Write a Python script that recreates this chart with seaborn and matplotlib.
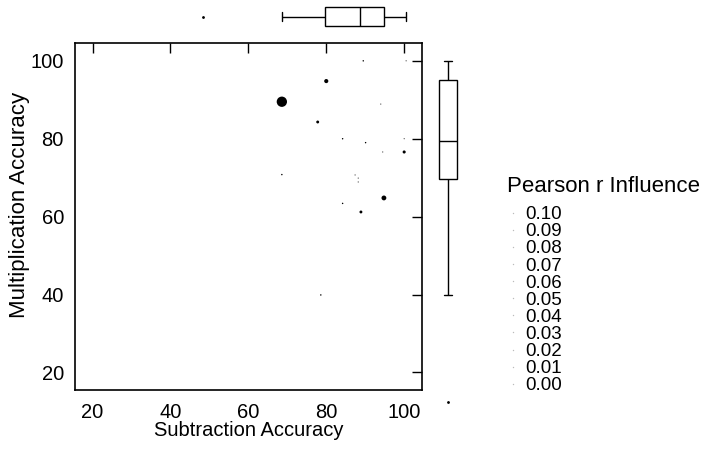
import matplotlib
matplotlib.use("Agg")
import matplotlib.pyplot as plt
from matplotlib.lines import Line2D
import seaborn as sns
import pandas as pd

# ---- data ----
subtraction = [68.6, 80.0, 89.5, 94.0, 77.8, 84.2, 90.1, 100.0, 94.5, 100.0,
               68.6, 87.4, 88.2, 88.2, 94.8, 84.2, 88.9, 78.6, 48.4,
               79.2, 95.0, 97.0, 100.0, 100.5]
multiplication = [89.5, 94.8, 100.0, 88.9, 84.3, 80.0, 79.0, 80.0, 76.6, 76.6,
                  70.8, 70.7, 69.9, 68.9, 64.8, 63.4, 61.2, 39.9, 12.5,
                  97.0, 96.0, 100.0, 98.0, 100.0]
influence = [0.100, 0.016, 0.002, 0.001, 0.008, 0.002, 0.002, 0.001, 0.001, 0.009,
             0.002, 0.001, 0.001, 0.001, 0.022, 0.002, 0.008, 0.002, 0.0,
             0.0, 0.0, 0.0, 0.0, 0.001]
legend_levels = [0.10, 0.09, 0.08, 0.07, 0.06, 0.05, 0.04, 0.03, 0.02, 0.01, 0.00]
ticks = [20, 40, 60, 80, 100]

df = pd.DataFrame({"Subtraction Accuracy": subtraction,
                   "Multiplication Accuracy": multiplication,
                   "Pearson r Influence": influence})

sns.set_theme(style="white")
plt.rcParams["font.family"] = ["Liberation Sans", "DejaVu Sans"]
plt.rcParams["text.color"] = "black"
plt.rcParams["axes.labelcolor"] = "black"
plt.rcParams["xtick.color"] = "black"
plt.rcParams["ytick.color"] = "black"

W, H = 710, 450
fig = plt.figure(figsize=(W / 100, H / 100), dpi=100)

def box(l, t, r, b):
    return [l / W, 1 - b / H, (r - l) / W, (b - t) / H]

ax = fig.add_axes(box(75, 43.3, 421.7, 390))
sns.scatterplot(data=df, x="Subtraction Accuracy", y="Multiplication Accuracy",
                size="Pearson r Influence", sizes=(0, 55), size_norm=(0, 0.1),
                color="black", edgecolor="none", linewidth=0, legend=False, ax=ax)
ax.set_xlim(15.5, 104.5)
ax.set_ylim(15.5, 104.5)
ax.set_xticks(ticks)
ax.set_yticks(ticks)
ax.tick_params(axis="both", which="both", direction="in", length=7.5, width=1,
               color="black", top=True, right=True, labelsize=14.5, labelcolor="black")
ax.tick_params(axis="x", pad=9)
ax.tick_params(axis="y", pad=8)
for s in ax.spines.values():
    s.set_color("black")
    s.set_linewidth(1.2)
ax.set_xlabel("Subtraction Accuracy", fontsize=14.5, color="black", labelpad=0)
ax.set_ylabel("Multiplication Accuracy", fontsize=16, color="black")
ax.yaxis.set_label_coords(-0.13, 0.534)

boxkw = dict(color="white", linecolor="black", linewidth=1, width=0.8,
             flierprops=dict(marker=".", markersize=2, markerfacecolor="black",
                             markeredgecolor="black"))

# top marginal box plot
axt = fig.add_axes(box(75, 4.8, 421.7, 28.6))
sns.boxplot(x=df["Subtraction Accuracy"], orient="h", ax=axt, **boxkw)
axt.set_xlim(15.5, 104.5)
axt.axis("off")

# right marginal box plot (same scale, extended downwards)
ybot = 104.5 - (425 - 43.3) / (346.7 / 89.0)
axr = fig.add_axes(box(437.1, 43.3, 458.9, 425))
sns.boxplot(y=df["Multiplication Accuracy"], orient="v", ax=axr, **boxkw)
axr.set_ylim(ybot, 104.5)
axr.axis("off")

# legend
handles = [Line2D([], [], linestyle="none", marker="o", markersize=1,
                  markerfacecolor="#bbbbbb", markeredgecolor="none")
           for _ in legend_levels]
labels = [f"{v:.2f}" for v in legend_levels]
leg = fig.legend(handles, labels, title="Pearson r Influence",
                 loc="upper left", bbox_to_anchor=(507 / W, 1 - 176 / H),
                 frameon=False, fontsize=13.5, title_fontsize=16,
                 labelspacing=0.0, handlelength=0.6, handletextpad=0.36,
                 borderaxespad=0, borderpad=0)
leg._legend_box.align = "left"
leg._legend_box.sep = 6.5

fig.savefig("out.png", dpi=100)
